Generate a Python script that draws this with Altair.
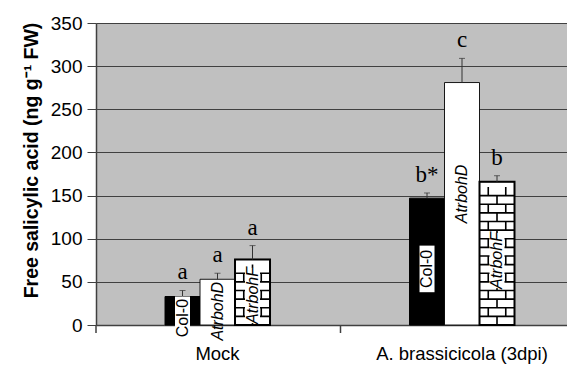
import altair as alt
import pandas as pd

# ---- data ----
groups = ["Mock", "A. brassicicola (3dpi)"]
genotypes = ["Col-0", "AtrbohD", "AtrbohF"]
mock_values = [33, 53, 76]
mock_errors = [7, 7, 16]
brass_values = [147, 281, 166]
brass_errors = [6, 28, 7]
mock_letters = ["a", "a", "a"]
brass_letters = ["b*", "c", "b"]

y_title = "Free salicylic acid (ng g\u207b\u00b9 FW)"

# ---- layout/style constants ----
label_slope = {"Col-0": 0.5, "AtrbohD": 0.596, "AtrbohF": 0.45}
label_shift = {"Col-0": -8.5, "AtrbohD": -15.6, "AtrbohF": 0.0}
box_half = {"Col-0": 27, "AtrbohF": 32}
brick_row = 10  # data units per brick row

rows = []
for g, vals, errs, lets in [
    (groups[0], mock_values, mock_errors, mock_letters),
    (groups[1], brass_values, brass_errors, brass_letters),
]:
    for gen, v, e, l in zip(genotypes, vals, errs, lets):
        c = v * label_slope[gen] + label_shift[gen]
        h = box_half.get(gen, 0)
        rows.append(dict(group=g, genotype=gen, value=v, top=v + e, letter=l,
                         label_y=c, box_lo=c - h, box_hi=min(c + h, v),
                         has_box=gen in box_half))
df = pd.DataFrame(rows)

brick_rows = []
for _, r in df[df.genotype == "AtrbohF"].iterrows():
    k = 0
    while (k + 1) * brick_row <= r.value:
        brick_rows.append(dict(group=r.group, genotype="AtrbohF",
                               yc=(k + 0.5) * brick_row,
                               kind="A" if k % 2 == 0 else "B"))
        k += 1
bricks = pd.DataFrame(brick_rows)
ticks_df = pd.DataFrame({"group": groups})

hh = 0.247
path_a = f"M-1,{hh}H1M0,-{hh}V{hh}"
path_b = f"M-1,{hh}H1M-0.5,-{hh}V{hh}M0.5,-{hh}V{hh}"

AX = "#404040"
FONT = "Liberation Sans"

x_enc = alt.X(
    "group:N",
    scale=alt.Scale(domain=groups, paddingInner=0.5706, paddingOuter=0.2485, align=0.568),
    axis=alt.Axis(title=None, ticks=False, labelAngle=0, labelFont=FONT,
                  labelFontSize=18.5, labelColor="black", labelPadding=19,
                  domainColor=AX, domainWidth=1.5, grid=False),
)
xoff = alt.XOffset("genotype:N",
                   scale=alt.Scale(domain=genotypes, paddingInner=0, paddingOuter=0))
y_scale = alt.Scale(domain=[0, 350], nice=False)

base = alt.Chart(df)

bars = base.mark_bar(stroke="black").encode(
    x=x_enc,
    xOffset=xoff,
    y=alt.Y("value:Q", scale=y_scale,
            axis=alt.Axis(values=list(range(0, 351, 50)), title=y_title,
                          titleFont=FONT, titleFontSize=19.5, titleFontWeight="bold",
                          titleColor="black", titlePadding=9, titleY=137,
                          labelFont=FONT, labelFontSize=19, labelColor="black",
                          labelPadding=5, tickSize=9, tickColor=AX, domainColor=AX,
                          domainWidth=1.5, gridColor=AX, gridWidth=1)),
    color=alt.Color("genotype:N", scale=alt.Scale(domain=genotypes,
                    range=["black", "white", "white"]), legend=None),
    strokeWidth=alt.StrokeWidth("genotype:N", scale=alt.Scale(domain=genotypes,
                                range=[1, 0.8, 2]), legend=None),
)

brick = alt.Chart(bricks).mark_point(filled=False, stroke="black", strokeWidth=1.6,
                                     opacity=1, size=35 * 35).encode(
    x="group:N",
    xOffset="genotype:N",
    y=alt.Y("yc:Q", scale=y_scale),
    shape=alt.Shape("kind:N", scale=alt.Scale(domain=["A", "B"], range=[path_a, path_b]),
                    legend=None),
)

border = base.transform_filter(alt.datum.genotype == "AtrbohF").mark_bar(
    fillOpacity=0, stroke="black", strokeWidth=2).encode(
    x="group:N", xOffset="genotype:N", y=alt.Y("value:Q", scale=y_scale))

err = base.mark_rule(color="#333333", strokeWidth=1).encode(
    x="group:N", xOffset="genotype:N", y=alt.Y("value:Q", scale=y_scale), y2="top:Q")
cap = base.mark_tick(color="#333333", size=6, thickness=1, orient="horizontal").encode(
    x="group:N", xOffset="genotype:N", y=alt.Y("top:Q", scale=y_scale))

boxes = base.transform_filter(alt.datum.has_box).mark_bar(
    color="white", width=15).encode(
    x="group:N", xOffset="genotype:N", y=alt.Y("box_lo:Q", scale=y_scale), y2="box_hi:Q")

lab_norm = base.transform_filter(alt.datum.genotype == "Col-0").mark_text(
    angle=270, font=FONT, fontSize=16, color="black").encode(
    x="group:N", xOffset="genotype:N", y=alt.Y("label_y:Q", scale=y_scale), text="genotype:N")
lab_ital = base.transform_filter(alt.datum.genotype != "Col-0").mark_text(
    angle=270, font=FONT, fontSize=16, fontStyle="italic", color="black").encode(
    x="group:N", xOffset="genotype:N", y=alt.Y("label_y:Q", scale=y_scale), text="genotype:N")

letters = base.mark_text(font="Liberation Serif", fontSize=23, color="black",
                         baseline="alphabetic", dy=-11).encode(
    x="group:N", xOffset="genotype:N", y=alt.Y("top:Q", scale=y_scale), text="letter:N")

xticks = alt.Chart(ticks_df).mark_rule(color=AX, strokeWidth=1.5).encode(
    x=alt.X("group:N", bandPosition=0,
            scale=alt.Scale(domain=groups, paddingInner=0.0736, paddingOuter=0, align=0),
            axis=None),
    y=alt.value(302), y2=alt.value(310))

main = alt.layer(bars, brick, border, err, cap, boxes, lab_norm, lab_ital, letters)

chart = alt.layer(main, xticks).resolve_scale(x="independent").properties(
    width=471, height=302,
    autosize=alt.AutoSizeParams(type="none"),
    padding={"left": 88, "top": 15, "right": 0, "bottom": 44},
    background="white",
).configure_view(fill="#c0c0c0", strokeWidth=0)

chart.save("out.html", embed_options={"renderer": "svg", "actions": False})
